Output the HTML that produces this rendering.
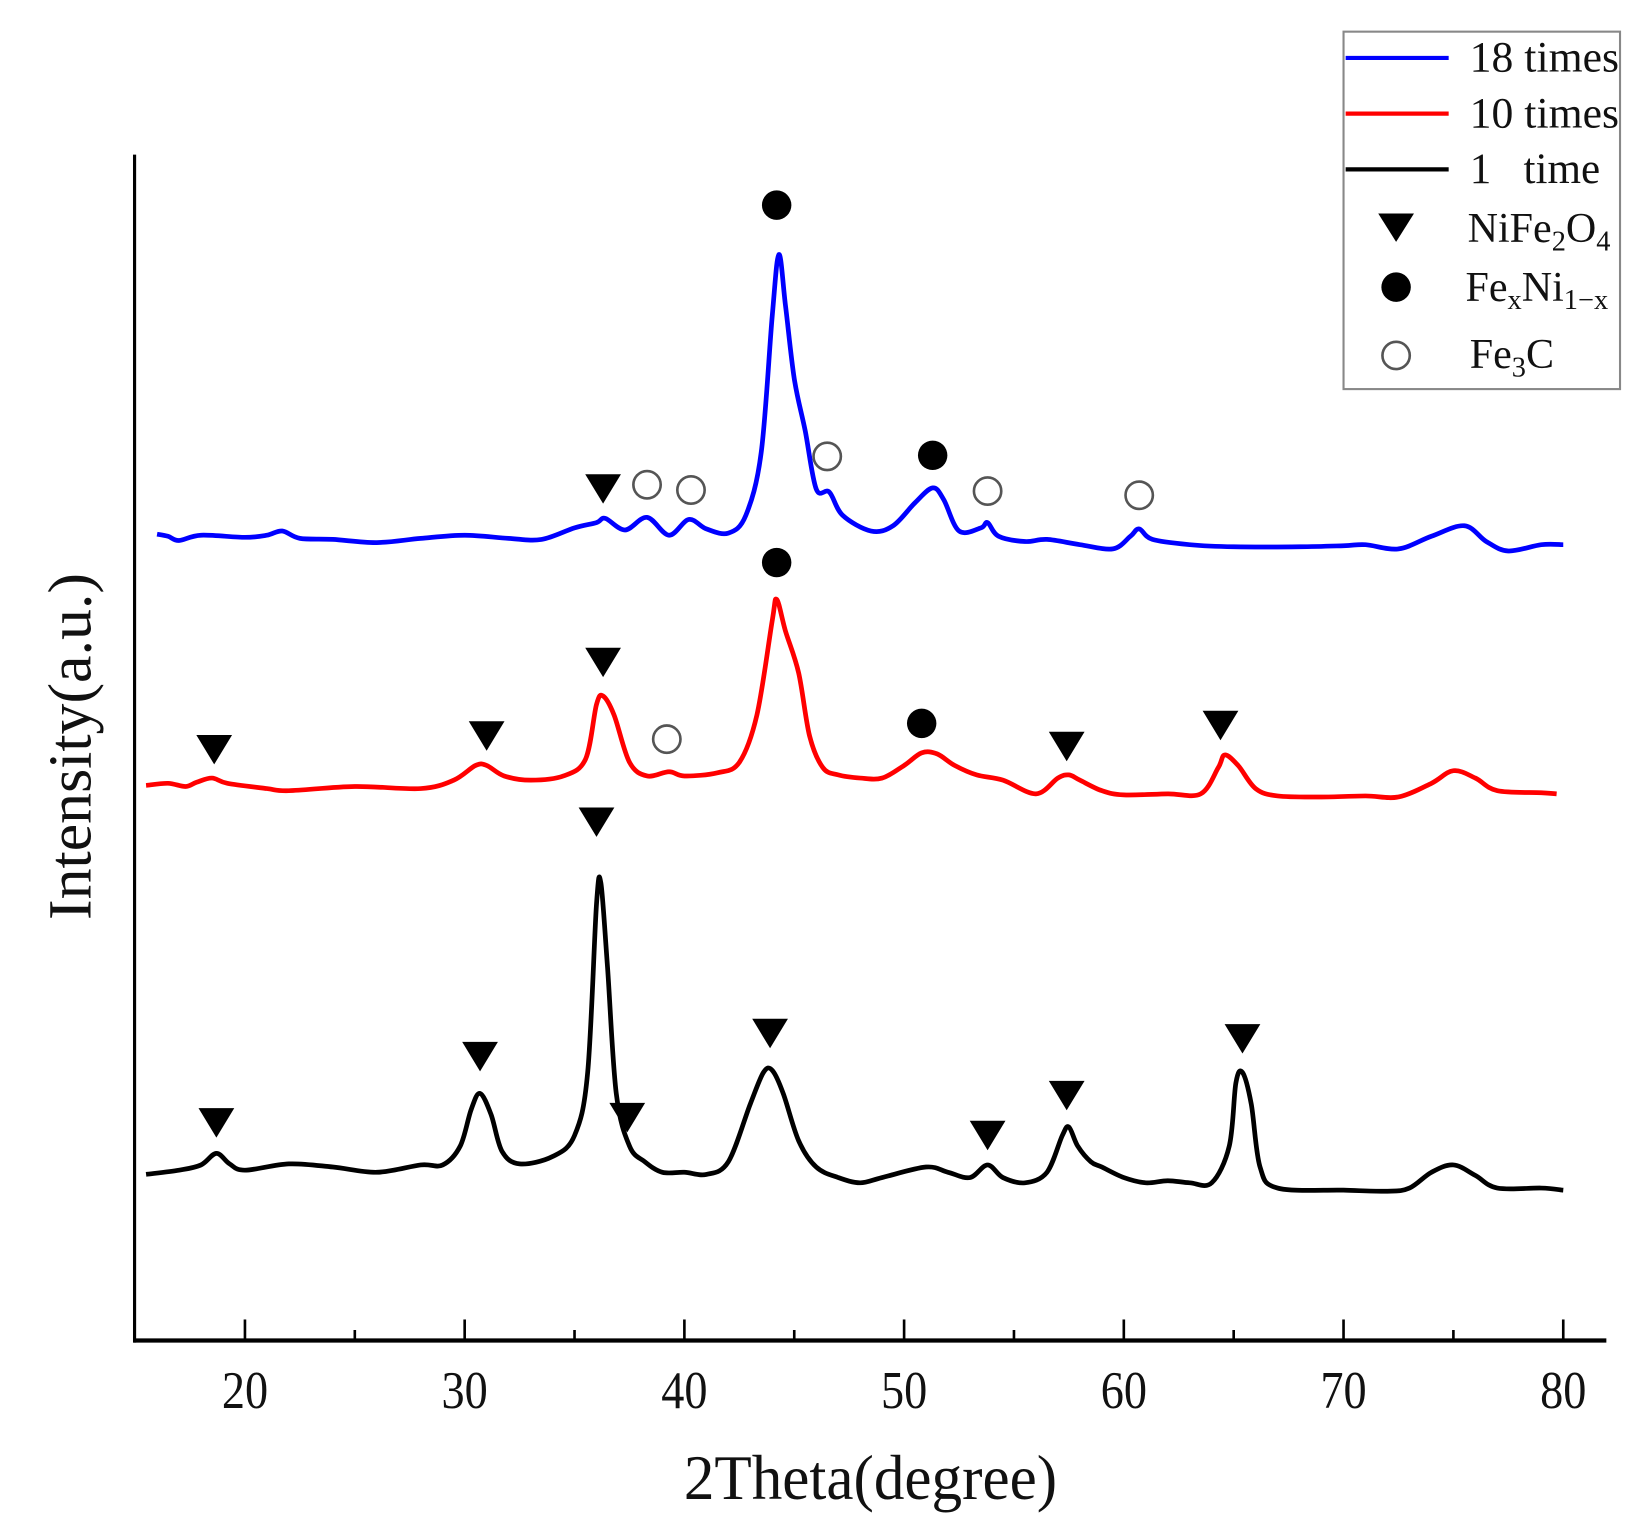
<!DOCTYPE html>
<html><head><meta charset="utf-8"><style>
html,body{margin:0;padding:0;background:#fff;}
svg{display:block;}
text{font-family:"Liberation Serif",serif;fill:#111;}
</style></head><body>
<svg id="chart" width="1640" height="1533" viewBox="0 0 1560 1458" xmlns="http://www.w3.org/2000/svg">
<g id="axes"></g>
<g id="series"></g>
<g id="markers"></g>
<text x="828" y="1426" font-size="60" text-anchor="middle" textLength="355" lengthAdjust="spacingAndGlyphs">2Theta(degree)</text>
<text transform="translate(86,710) rotate(-90)" font-size="58" text-anchor="middle" textLength="330" lengthAdjust="spacingAndGlyphs">Intensity(a.u.)</text>
<g>
<rect x="1278" y="30" width="263" height="340" fill="#fff" stroke="#888" stroke-width="2"/>
<line x1="1280" y1="55" x2="1378" y2="55" stroke="#0000ff" stroke-width="4"/>
<text x="1398" y="68" font-size="41" textLength="142" lengthAdjust="spacingAndGlyphs">18 times</text>
<line x1="1280" y1="108" x2="1378" y2="108" stroke="#ff0000" stroke-width="4"/>
<text x="1398" y="121" font-size="41" textLength="142" lengthAdjust="spacingAndGlyphs">10 times</text>
<line x1="1280" y1="161" x2="1378" y2="161" stroke="#000" stroke-width="4"/>
<text x="1398" y="174" font-size="41">1&#160;&#160;&#160;time</text>
<polygon points="1311,203 1345,203 1328,230" fill="#000"/>
<text x="1396" y="230" font-size="40">NiFe<tspan font-size="27" dy="8">2</tspan><tspan dy="-8">O</tspan><tspan font-size="27" dy="8">4</tspan></text>
<circle cx="1328" cy="273" r="14" fill="#000"/>
<text x="1394" y="286" font-size="40">Fe<tspan font-size="27" dy="8">x</tspan><tspan dy="-8">Ni</tspan><tspan font-size="27" dy="8">1−x</tspan></text>
<circle cx="1328" cy="338" r="13" fill="none" stroke="#555" stroke-width="2.5"/>
<text x="1398" y="350" font-size="40">Fe<tspan font-size="27" dy="8">3</tspan><tspan dy="-8">C</tspan></text>
</g>
</svg>
<script>
const xTicks=[20,30,40,50,60,70,80];
const xMinor=[25,35,45,55,65,75];
const blackX=[15.5,17,18,18.7,19.3,20,22,24,26,28,29,29.8,30.3,30.7,31.2,31.7,32.5,34,35,35.6,36,36.2,36.5,36.9,37.5,38.2,39,40,41,42,43,43.6,44,44.5,45.2,46,47,48,49,51,52,53,53.8,54.5,55.5,56.5,57.2,57.5,57.9,58.5,59,60,61,62,63,64,64.8,65.1,65.4,65.8,66.2,67,70,72,73,74,75,76,77,79,80];
const blackY=[158,162,167,178,168,162,168,165,160,167,167,185,220,235,215,180,168,175,195,255,415,435,355,235,185,170,160,160,158,170,225,255,257,235,190,165,155,150,155,165,160,155,167,155,150,160,195,203,185,170,165,155,150,152,150,150,185,245,255,225,165,145,143,142,145,160,167,157,145,145,143];
const redX=[15.5,16.5,17.3,17.8,18.5,19.2,21,22,25,28,29.5,30.5,31,31.8,33,34.5,35.5,36,36.3,36.8,37.5,38.3,39.3,40,41.5,42.5,43.3,44,44.2,44.6,45.2,45.7,46.3,47,48,49,50,50.8,51.5,52.3,53.3,54.5,56,57,57.5,58,59,60,62,63.5,64.3,64.6,65.2,66,67,69,71,72.5,74,75,76,77,79,79.7];
const redY=[528,530,527,531,535,530,525,523,527,525,533,547,547,537,533,537,553,605,613,595,550,537,541,537,540,550,595,685,705,675,635,575,545,538,535,535,547,559,558,547,538,533,520,535,538,533,523,519,520,520,545,557,547,525,518,517,518,517,530,542,535,523,521,520];
const blueX=[16,16.5,17,18,20,21,21.7,22.5,24,26,28,30,32,33.5,35,36,36.4,37.3,38.3,39.3,40.2,41,42,42.8,43.5,44,44.3,44.6,45,45.5,46,46.6,47.2,48.5,49.5,50.5,51.3,51.8,52.5,53.5,53.8,54.3,55.5,56.5,58,59.5,60.3,60.7,61.3,63,65,68,70,71,72.5,74,75.5,76.5,77.5,79,80];
const blueY=[767,765,761,766,764,766,770,763,762,759,763,766,763,762,773,778,782,771,783,766,781,772,768,785,845,975,1033,985,915,865,810,807,785,770,775,797,811,800,770,773,778,765,760,762,757,753,765,772,762,757,755,755,756,757,753,765,775,760,751,757,757];
const triX=[18.7,30.7,36.0,37.4,43.9,53.8,57.4,65.4,18.6,31,36.3,57.4,64.4,36.3];
const triY=[207,270,493,212,292,195,233,287,562,575,645,565,585,810];
const dotX=[44.2,50.8,44.2,51.3];
const dotY=[740,587,1080,842];
const openX=[39.2,38.3,40.3,46.5,53.8,60.7];
const openY=[572,814,809,841,808,804];
const NS="http://www.w3.org/2000/svg";
const X0=128,X1=1528,YB=1275,YT=147;
function xs(d){return 233+(d-20)*(1487-233)/60;}
function ys(v){return YB-v;}
const axes=document.getElementById('axes');
function mk(tag,attrs,parent){const e=document.createElementNS(NS,tag);for(const k in attrs)e.setAttribute(k,attrs[k]);parent.appendChild(e);return e;}
let e=mk('line',{x1:X0,y1:YT,x2:X0,y2:YB+2,stroke:'#000','stroke-width':3},axes);


e=mk('line',{x1:X0-1,y1:YB,x2:X1,y2:YB,stroke:'#000','stroke-width':4},axes);


xTicks.forEach(t=>{
 let l=mk('line',{x1:xs(t),y1:YB,x2:xs(t),y2:YB-20,stroke:'#000','stroke-width':2.5},axes);
 
 
 let tx=mk('text',{x:xs(t),y:1339,'font-size':50,'text-anchor':'middle',textLength:44,lengthAdjust:'spacingAndGlyphs'},axes);
 tx.textContent=t;
 
 
});
xMinor.forEach(t=>{
 let l=mk('line',{x1:xs(t),y1:YB,x2:xs(t),y2:YB-10,stroke:'#000','stroke-width':2.5},axes);
 
 
});
function pathFor(X,Y){
 const p=X.map((d,i)=>[xs(d),ys(Y[i])]);
 let s='M'+p[0][0]+','+p[0][1];
 for(let i=0;i<p.length-1;i++){
  const p0=p[Math.max(0,i-1)],p1=p[i],p2=p[i+1],p3=p[Math.min(p.length-1,i+2)];
  const c1=[p1[0]+(p2[0]-p0[0])/6,p1[1]+(p2[1]-p0[1])/6];
  const c2=[p2[0]-(p3[0]-p1[0])/6,p2[1]-(p3[1]-p1[1])/6];
  s+='C'+c1[0].toFixed(1)+','+c1[1].toFixed(1)+' '+c2[0].toFixed(1)+','+c2[1].toFixed(1)+' '+p2[0].toFixed(1)+','+p2[1].toFixed(1);
 }
 return s;
}
const sg=document.getElementById('series');
let s1=mk('path',{d:pathFor(blackX,blackY),fill:'none',stroke:'#000','stroke-width':4.5,'stroke-linejoin':'round'},sg);


let s2=mk('path',{d:pathFor(redX,redY),fill:'none',stroke:'#ff0000','stroke-width':4.5,'stroke-linejoin':'round'},sg);


let s3=mk('path',{d:pathFor(blueX,blueY),fill:'none',stroke:'#0000ff','stroke-width':4.5,'stroke-linejoin':'round'},sg);


const mg=document.getElementById('markers');
triX.forEach((d,i)=>{
 const cx=xs(d),cy=ys(triY[i]);
 let t=mk('polygon',{points:(cx-17)+','+(cy-14)+' '+(cx+17)+','+(cy-14)+' '+cx+','+(cy+14),fill:'#000'},mg);
 
 
});
dotX.forEach((d,i)=>{
 let c=mk('circle',{cx:xs(d),cy:ys(dotY[i]),r:14,fill:'#000'},mg);
 
 
});
openX.forEach((d,i)=>{
 let c=mk('circle',{cx:xs(d),cy:ys(openY[i]),r:13,fill:'none',stroke:'#555','stroke-width':2.5},mg);
 
 
});
</script>
</body></html>
